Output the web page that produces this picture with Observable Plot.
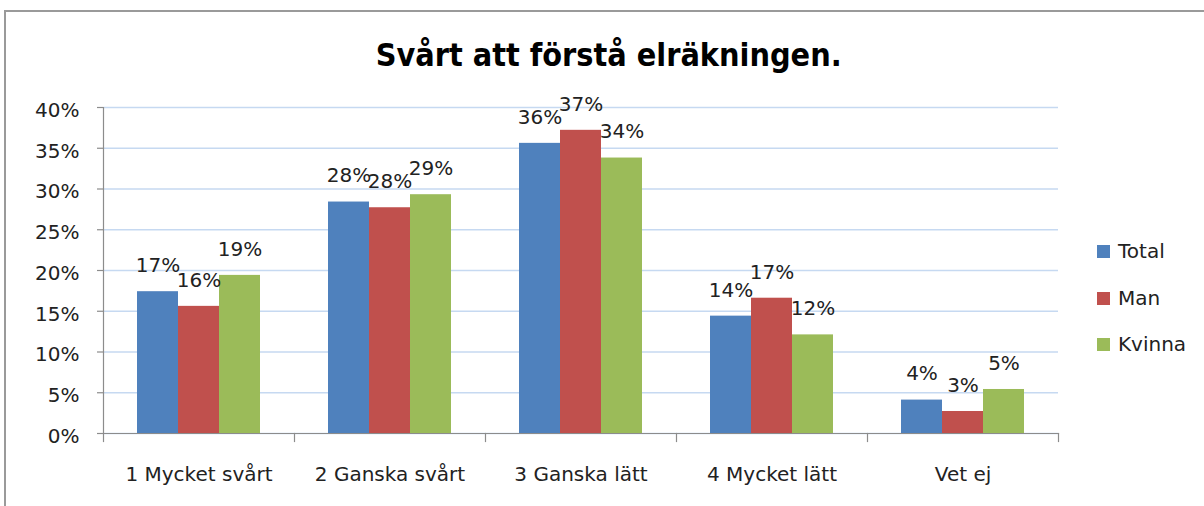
<!DOCTYPE html>
<html>
<head>
<meta charset="utf-8">
<script src="https://cdn.jsdelivr.net/npm/d3@7"></script>
<script src="https://cdn.jsdelivr.net/npm/@observablehq/plot@0.6"></script>
<style>
  html, body { margin: 0; padding: 0; background: #fff; }
  #wrap { position: relative; width: 1204px; height: 506px; overflow: hidden; background: #fff; }
  #border { position: absolute; left: 4px; top: 10px; width: 1300px; height: 600px;
            border-top: 2px solid #9a9a9a; border-left: 2px solid #9a9a9a; box-sizing: border-box; }
  #title { position: absolute; left: 0; width: 1218px; top: 38px; text-align: center;
           font-family: "Liberation Sans Narrow", "DejaVu Sans Condensed", "Liberation Sans", sans-serif;
           font-weight: bold; font-size: 32px; line-height: 34px; color: #000; white-space: nowrap; }
  #title span { display: inline-block; transform-origin: center; }
  #chart { position: absolute; left: 0; top: 90px; }
  #legend { position: absolute; left: 1097px; top: 0; font-family: "DejaVu Sans", sans-serif; font-size: 20px; color: #222; }
  .row { position: absolute; left: 0; display: flex; align-items: center; height: 24px; white-space: nowrap; }
  .sw { width: 13px; height: 13px; margin-right: 8px; }
</style>
</head>
<body>
<div id="wrap">
  <div id="border"></div>
  <div id="title"><span id="tt">Svårt att förstå elräkningen.</span></div>
  <div id="chart"></div>
  <div id="legend"></div>
</div>
<script>
const categories = ["1 Mycket svårt", "2 Ganska svårt", "3 Ganska lätt", "4 Mycket lätt", "Vet ej"];
const series = ["Total", "Man", "Kvinna"];
const colors = ["#4f81bd", "#c0504d", "#9bbb59"];
const totalValues  = [0.174, 0.284, 0.356, 0.144, 0.041];
const manValues    = [0.156, 0.277, 0.372, 0.166, 0.027];
const kvinnaValues = [0.194, 0.293, 0.338, 0.121, 0.054];
const yTicks = [0, 0.05, 0.10, 0.15, 0.20, 0.25, 0.30, 0.35, 0.40];

const valuesBySeries = [totalValues, manValues, kvinnaValues];
const data = [];
categories.forEach((c, i) => {
  series.forEach((s, j) => data.push({cat: c, series: s, value: valuesBySeries[j][i]}));
});

const pct = d3.format(".0%");
const axisColor = "#8c8c8c";
const textColor = "#222";
const plotH = 326;

const chart = Plot.plot({
  width: 1204,
  height: 416,
  marginTop: 17,
  marginBottom: 73,
  marginLeft: 102,
  marginRight: 146,
  style: {fontFamily: "DejaVu Sans, sans-serif", fontSize: "20px", color: textColor, background: "transparent", overflow: "visible"},
  fx: {domain: categories, padding: 0, axis: "bottom", tickSize: 0, tickPadding: 33, label: null},
  x: {domain: series, paddingInner: 0, paddingOuter: 0.776, axis: null},
  y: {domain: [0, 0.4], axis: null},
  color: {domain: series, range: colors},
  marks: [
    Plot.gridY(yTicks, {stroke: "#c6d9f1", strokeOpacity: 1, strokeWidth: 1.3}),
    Plot.barY(data, {fx: "cat", x: "series", y: "value", fill: "series"}),
    Plot.frame({anchor: "bottom", stroke: axisColor, strokeWidth: 1.2}),
    Plot.frame({anchor: "left", facetAnchor: "left", stroke: axisColor, strokeWidth: 1.2}),
    Plot.frame({anchor: "left", insetTop: plotH, insetBottom: -8, stroke: axisColor, strokeWidth: 1.2}),
    Plot.frame({anchor: "right", facetAnchor: "right", insetTop: plotH, insetBottom: -8, stroke: axisColor, strokeWidth: 1.2}),
    Plot.axisY(yTicks, {tickSize: 6, tickFormat: () => "", label: null, stroke: axisColor, strokeWidth: 1.2}),
    Plot.axisY(yTicks, {tickSize: 0, tickPadding: 24, tickFormat: pct, label: null, dy: 3, fill: textColor, fontSize: 20}),
    Plot.text(data, {fx: "cat", x: "series", y: "value", text: d => pct(d.value), dy: -26, fill: textColor, fontSize: 20})
  ]
});
document.getElementById("chart").appendChild(chart);

// legend
const legend = document.getElementById("legend");
const legendCenters = [251, 298, 344];
series.forEach((s, i) => {
  const row = document.createElement("div");
  row.className = "row";
  row.style.top = (legendCenters[i] - 12) + "px";
  const sw = document.createElement("div");
  sw.className = "sw";
  sw.style.background = colors[i];
  const lab = document.createElement("span");
  lab.textContent = s;
  row.appendChild(sw);
  row.appendChild(lab);
  legend.appendChild(row);
});

// fit title width
const tt = document.getElementById("tt");
const w = tt.getBoundingClientRect().width;
if (w > 0) tt.style.transform = `scaleX(${466 / w})`;
</script>
</body>
</html>
